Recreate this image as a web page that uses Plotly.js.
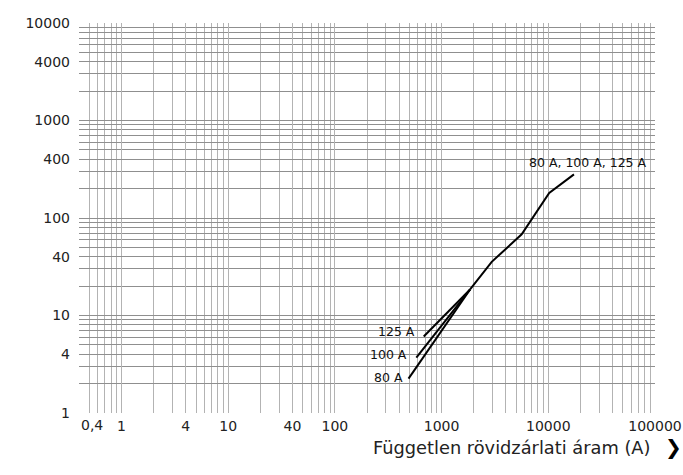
<!DOCTYPE html>
<html>
<head>
<meta charset="utf-8">
<script src="https://cdn.plot.ly/plotly-3.0.1.min.js"></script>
<style>html,body{margin:0;padding:0;background:#fff;}#chart{width:683px;height:475px;}</style>
</head>
<body>
<div id="chart"></div>
<script>
// Shared upper part of the curve (80 A, 100 A, 125 A)
const commonX = [1850, 2950, 5630, 7240, 10200, 17400];
const commonY = [18.5, 35.5, 68, 103, 181, 280];
// Lower branches
const x80 = [490, 1850];
const y80 = [2.25, 18.5];
const x100 = [580, 1850];
const y100 = [3.7, 18.5];
const x125 = [680, 1850];
const y125 = [6.1, 18.5];

const xTickVals = [1, 4, 10, 40, 100, 1000, 10000, 100000];
const xTickText = ['1', '4', '10', '40', '100', '1000', '10000', '100000'];
const yTickVals = [1, 4, 10, 40, 100, 400, 1000, 4000, 10000];
const yTickText = ['1', '4', '10', '40', '100', '400', '1000', '4000', '10000'];
const xFirstLabel = '0,4';
const seriesLabels = ['80 A', '100 A', '125 A', '80 A, 100 A, 125 A'];
const xTitle = 'Független rövidzárlati áram (A)';

function digitGrid(decades, lo, hi, skip) {
  const out = [];
  decades.forEach(d => { for (let k = 1; k <= 9; k++) { const v = +(k * d).toPrecision(3); if (v >= lo && v <= hi && skip.indexOf(v) < 0) out.push(v); } });
  return out;
}
const xMinor = digitGrid([0.1, 1, 10, 100, 1000, 10000, 100000], 0.5, 100000, xTickVals);
const yMinor = digitGrid([1, 10, 100, 1000, 10000], 1, 10000, yTickVals);

const lineStyle = {color: '#000', width: 2};
const traces = [
  {x: commonX, y: commonY, mode: 'lines', line: lineStyle, hoverinfo: 'skip'},
  {x: x80, y: y80, mode: 'lines', line: lineStyle, hoverinfo: 'skip'},
  {x: x100, y: y100, mode: 'lines', line: lineStyle, hoverinfo: 'skip'},
  {x: x125, y: y125, mode: 'lines', line: lineStyle, hoverinfo: 'skip'}
];

const F = 'DejaVu Sans, sans-serif';
const lab = {family: F, size: 12.5, color: '#111'};
const annotations = [
  {x: Math.log10(0.4), y: 0, xref: 'x', yref: 'y', text: xFirstLabel, showarrow: false, xanchor: 'left', yanchor: 'top', yshift: -2, xshift: 0, font: {family: F, size: 14, color: '#222'}},
  {x: Math.log10(x80[0]), y: Math.log10(y80[0]), text: seriesLabels[0], showarrow: false, xanchor: 'right', yanchor: 'middle', xshift: -4, yshift: 1, font: lab},
  {x: Math.log10(x100[0]), y: Math.log10(y100[0]), text: seriesLabels[1], showarrow: false, xanchor: 'right', yanchor: 'middle', xshift: -7, yshift: 3, font: lab},
  {x: Math.log10(x125[0]), y: Math.log10(y125[0]), text: seriesLabels[2], showarrow: false, xanchor: 'right', yanchor: 'middle', xshift: -7, yshift: 5, font: lab},
  {x: Math.log10(commonX[commonX.length - 1]), y: Math.log10(commonY[commonY.length - 1]), text: seriesLabels[3], showarrow: false, xanchor: 'center', yanchor: 'middle', xshift: 14, yshift: 12, font: lab},
  {x: 1, y: 0, xref: 'paper', yref: 'paper', text: xTitle, showarrow: false, xanchor: 'right', yanchor: 'middle', xshift: -3, yshift: -34, font: {family: F, size: 17.8, color: '#222'}},
  {x: 1, y: 0, xref: 'paper', yref: 'paper', text: '<b>❯</b>', showarrow: false, xanchor: 'center', yanchor: 'middle', xshift: 18, yshift: -34, font: {family: F, size: 20, color: '#000'}}
];

const layout = {
  width: 683, height: 475,
  margin: {l: 79, r: 28, t: 23, b: 62},
  paper_bgcolor: '#fff', plot_bgcolor: '#fff',
  showlegend: false,
  font: {family: F, size: 14, color: '#222'},
  xaxis: {
    type: 'log', range: [Math.log10(0.4), 5],
    tickmode: 'array', tickvals: xTickVals, ticktext: xTickText,
    showgrid: true, gridcolor: '#b3b3b3', gridwidth: 1,
    minor: {tickmode: 'array', tickvals: xMinor, showgrid: true, gridcolor: '#b3b3b3', gridwidth: 1, ticks: ''},
    showline: false, zeroline: false, ticks: '', ticklabelstandoff: 3,
    tickfont: {family: F, size: 14, color: '#222'}, fixedrange: true
  },
  yaxis: {
    type: 'log', range: [0, 4],
    tickmode: 'array', tickvals: yTickVals, ticktext: yTickText,
    showgrid: true, gridcolor: '#8f8f8f', gridwidth: 1,
    minor: {tickmode: 'array', tickvals: yMinor, showgrid: true, gridcolor: '#8f8f8f', gridwidth: 1, ticks: ''},
    showline: false, zeroline: false, ticks: '', ticklabelstandoff: 8,
    tickfont: {family: F, size: 14, color: '#222'}, fixedrange: true
  },
  annotations: annotations
};

Plotly.newPlot('chart', traces, layout, {staticPlot: true, displayModeBar: false});
</script>
</body>
</html>
